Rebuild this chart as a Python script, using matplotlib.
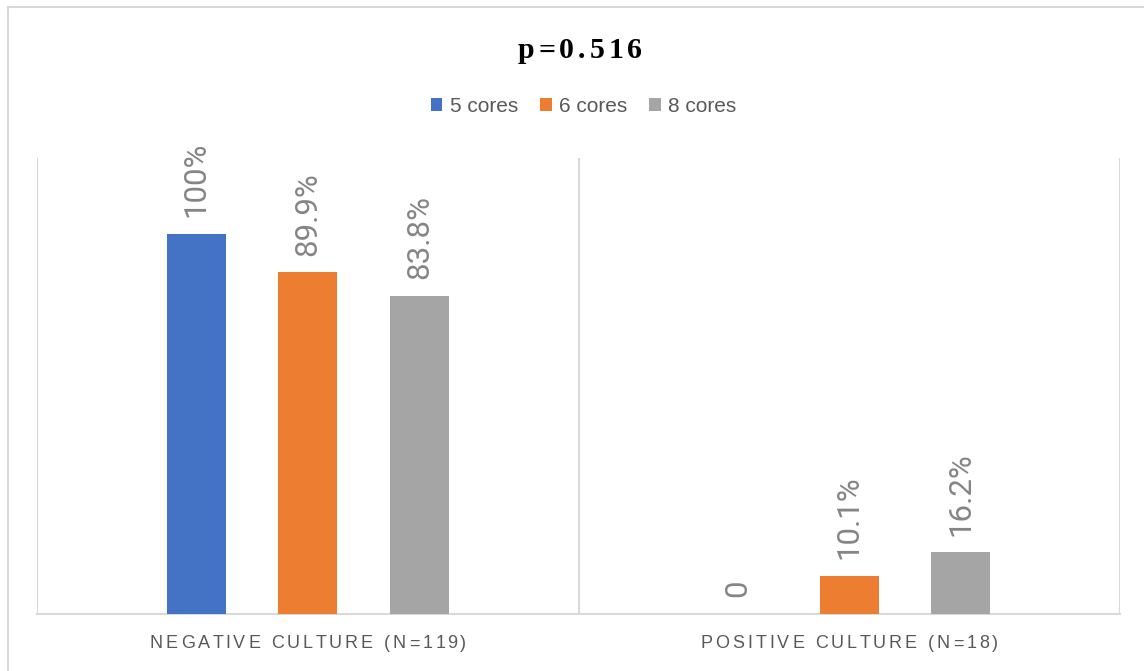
import numpy as np
import matplotlib
matplotlib.use("Agg")
import matplotlib.pyplot as plt
from matplotlib.font_manager import FontProperties
from matplotlib.patches import Patch
from matplotlib.lines import Line2D

categories = ["NEGATIVE CULTURE (N=119)", "POSITIVE CULTURE (N=18)"]
series = ["5 cores", "6 cores", "8 cores"]
values = {
    "5 cores": [100, 0],
    "6 cores": [89.9, 10.1],
    "8 cores": [83.8, 16.2],
}
colors = ["#4472C4", "#ED7D31", "#A5A5A5"]
title = "p=0.516"

W, H = 1144, 671
fig = plt.figure(figsize=(W / 100, H / 100), dpi=100)
ax = fig.add_axes([37 / W, 57 / H, (1120 - 37) / W, (614 - 158) / H])

grid_c = "#D9D9D9"
x = np.arange(len(categories))
step = 0.206
width = 0.109
label_prop = FontProperties(family="Roboto", weight="normal", size=22.5)
for i, name in enumerate(series):
    xs = x + (i - 1) * step
    ax.bar(xs, values[name], width, color=colors[i], zorder=3)
    for xi, v in zip(xs, values[name]):
        lab = f"{v:g}%" if v else "0"
        ax.annotate(lab, (xi, v), xytext=(0, 12), textcoords="offset points",
                    rotation=90, ha="center", va="bottom",
                    fontproperties=label_prop, color="#858585")

ax.set_xlim(-0.5, 1.5)
ax.set_ylim(0, 120)
for xv in [-0.5, 0.5, 1.5]:
    ax.axvline(xv, color=grid_c, lw=1.5, zorder=1)
for s in ["left", "right", "top"]:
    ax.spines[s].set_visible(False)
ax.spines["bottom"].set_color(grid_c)
ax.spines["bottom"].set_linewidth(1.5)
ax.set_xticks([])
ax.set_yticks([])

renderer = fig.canvas.get_renderer()


def text_w(s, prop):
    w, _, _ = renderer.get_text_width_height_descent(s + "x", prop, ismath=False)
    wx, _, _ = renderer.get_text_width_height_descent("x", prop, ismath=False)
    return w - wx


def spaced_text(cx, cy, s, spacing, prop, color):
    total = text_w(s, prop) + spacing * (len(s) - 1)
    start = cx - total / 2
    for i, ch in enumerate(s):
        if ch == " ":
            continue
        off = text_w(s[:i], prop) if i else 0
        fig.text((start + off + i * spacing) / W, 1 - cy / H, ch,
                 ha="left", va="center", fontproperties=prop, color=color)


title_prop = FontProperties(family="Liberation Serif", weight="bold", size=21.5)
spaced_text(580, 51, title, 4, title_prop, "#000000")

cat_prop = FontProperties(family="Liberation Sans", size=13)
for xi, cat in zip(x, categories):
    cx = 37 + (xi + 0.5) * (1120 - 37) / 2
    spaced_text(cx, 644, cat, 3, cat_prop, "#595959")

handles = [Patch(facecolor=c, edgecolor="none") for c in colors]
fig.legend(handles, series, loc="center", bbox_to_anchor=(583.5 / W, 1 - 106 / H),
           ncol=3, frameon=False, prop=FontProperties(family="Liberation Sans", size=15),
           handlelength=0.57, handleheight=0.57, handletextpad=0.35,
           columnspacing=1.05, labelcolor="#595959")

# outer frame (top and left edges)
fig.add_artist(Line2D([8 / W, 1], [1 - 7 / H, 1 - 7 / H], color=grid_c, lw=1.5))
fig.add_artist(Line2D([8 / W, 8 / W], [0, 1 - 7 / H], color=grid_c, lw=1.5))

fig.savefig("out.png", dpi=100)
